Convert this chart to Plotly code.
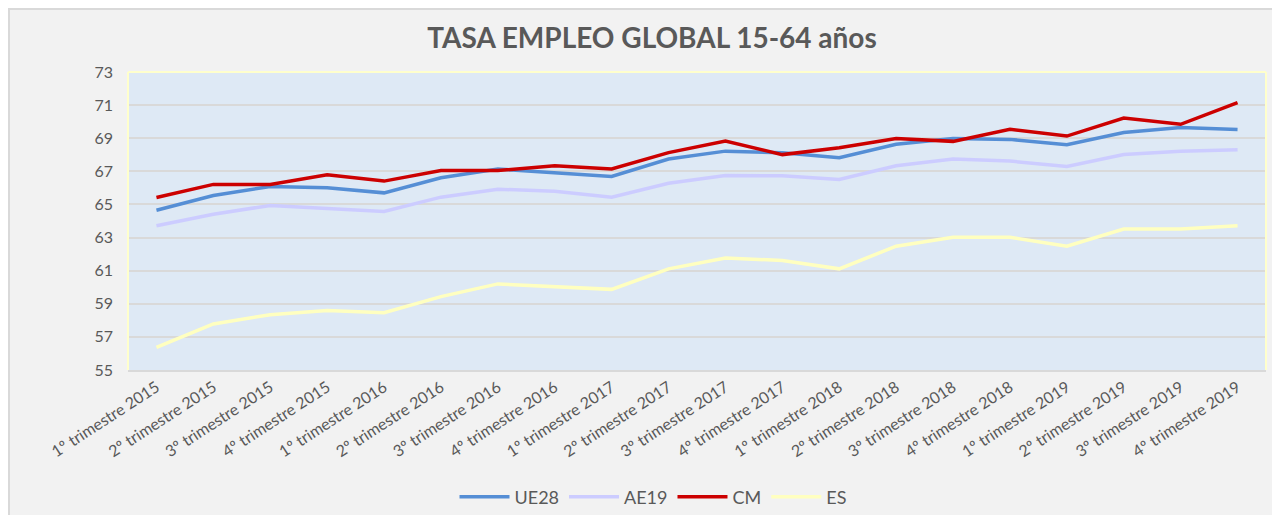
import plotly.graph_objects as go

categories = [
    "1º trimestre 2015", "2º trimestre 2015", "3º trimestre 2015", "4º trimestre 2015",
    "1º trimestre 2016", "2º trimestre 2016", "3º trimestre 2016", "4º trimestre 2016",
    "1º trimestre 2017", "2º trimestre 2017", "3º trimestre 2017", "4º trimestre 2017",
    "1º trimestre 2018", "2º trimestre 2018", "3º trimestre 2018", "4º trimestre 2018",
    "1º trimestre 2019", "2º trimestre 2019", "3º trimestre 2019", "4º trimestre 2019",
]
ue28 = [64.65, 65.54, 66.09, 66.01, 65.70, 66.61, 67.14, 66.91, 66.69, 67.74,
        68.22, 68.12, 67.82, 68.63, 68.98, 68.93, 68.61, 69.35, 69.65, 69.52]
ae19 = [63.71, 64.41, 64.94, 64.77, 64.57, 65.44, 65.92, 65.80, 65.44, 66.28,
        66.75, 66.73, 66.51, 67.34, 67.74, 67.62, 67.30, 68.01, 68.22, 68.31]
cm = [65.42, 66.21, 66.21, 66.79, 66.41, 67.05, 67.05, 67.34, 67.14, 68.13,
      68.83, 68.01, 68.43, 68.98, 68.81, 69.54, 69.13, 70.22, 69.84, 71.15]
es = [56.36, 57.78, 58.34, 58.60, 58.46, 59.43, 60.20, 60.05, 59.87, 61.11,
      61.77, 61.61, 61.11, 62.48, 63.02, 63.02, 62.48, 63.51, 63.51, 63.71]

series = [("UE28", ue28, "#558ed5"), ("AE19", ae19, "#ccccff"),
          ("CM", cm, "#cc0000"), ("ES", es, "#ffffc0")]

FONT = "Lato"
TXT = "#595959"

fig = go.Figure()
for name, vals, col in series:
    fig.add_trace(go.Scatter(x=categories, y=vals, name=name, mode="lines",
                             line=dict(color=col, width=3.5)))

# page has an 8px body margin, so the figure sits at (8, 8) in the window
W, H = 1272, 507
L, R, T, B = 120, 14, 64, 145
pw, ph = W - L - R, H - T - B

def px_x(x):
    return (x - L) / pw

def px_y(y):
    return (H - B - y) / ph

shapes = [
    # chart area border (top and left)
    dict(type="line", xref="paper", yref="paper", x0=px_x(0), x1=px_x(W + 5),
         y0=px_y(1), y1=px_y(1), line=dict(color="#d9d9d9", width=2)),
    dict(type="line", xref="paper", yref="paper", x0=px_x(1), x1=px_x(1),
         y0=px_y(0), y1=px_y(H + 5), line=dict(color="#d9d9d9", width=2)),
    # plot area border (yellow)
    dict(type="line", xref="paper", yref="paper", x0=0, x1=0, y0=0, y1=1,
         line=dict(color="#ffffcc", width=2)),
    dict(type="line", xref="paper", yref="paper", x0=0, x1=1, y0=1, y1=1,
         line=dict(color="#ffffcc", width=2)),
    dict(type="line", xref="paper", yref="paper", x0=1, x1=1, y0=0, y1=1,
         line=dict(color="#ffffcc", width=2)),
]

fig.update_layout(
    width=W, height=H,
    margin=dict(l=L, r=R, t=T, b=B, pad=0, autoexpand=False),
    paper_bgcolor="#f2f2f2",
    plot_bgcolor="#dee9f5",
    font=dict(family=FONT, color=TXT, size=14),
    title=dict(text="<b>TASA EMPLEO GLOBAL 15-64 años</b>", x=644 / W, xanchor="center",
               y=1 - 30 / H, yanchor="middle", yref="container",
               font=dict(family=FONT, size=28, color=TXT)),
    showlegend=True,
    legend=dict(orientation="h", x=px_x(645), xanchor="center", y=px_y(489), yanchor="middle",
                font=dict(family=FONT, size=18, color=TXT), bgcolor="rgba(0,0,0,0)",
                itemwidth=50, tracegroupgap=0),
    shapes=shapes,
    xaxis=dict(type="category", tickangle=-33, showgrid=False, showline=True,
               linecolor="#d9d9d9", linewidth=2, ticks="", zeroline=False, automargin=False,
               tickfont=dict(family=FONT, size=16, color=TXT), range=[-0.5, 19.5]),
    yaxis=dict(range=[55, 73], dtick=2, tick0=55, showgrid=True, gridcolor="#d9d9d9",
               gridwidth=1.5, zeroline=False, showline=False, ticks="", automargin=False,
               tickfont=dict(family=FONT, size=16, color=TXT), ticklabelstandoff=14),
)

fig.write_html("out.html")
